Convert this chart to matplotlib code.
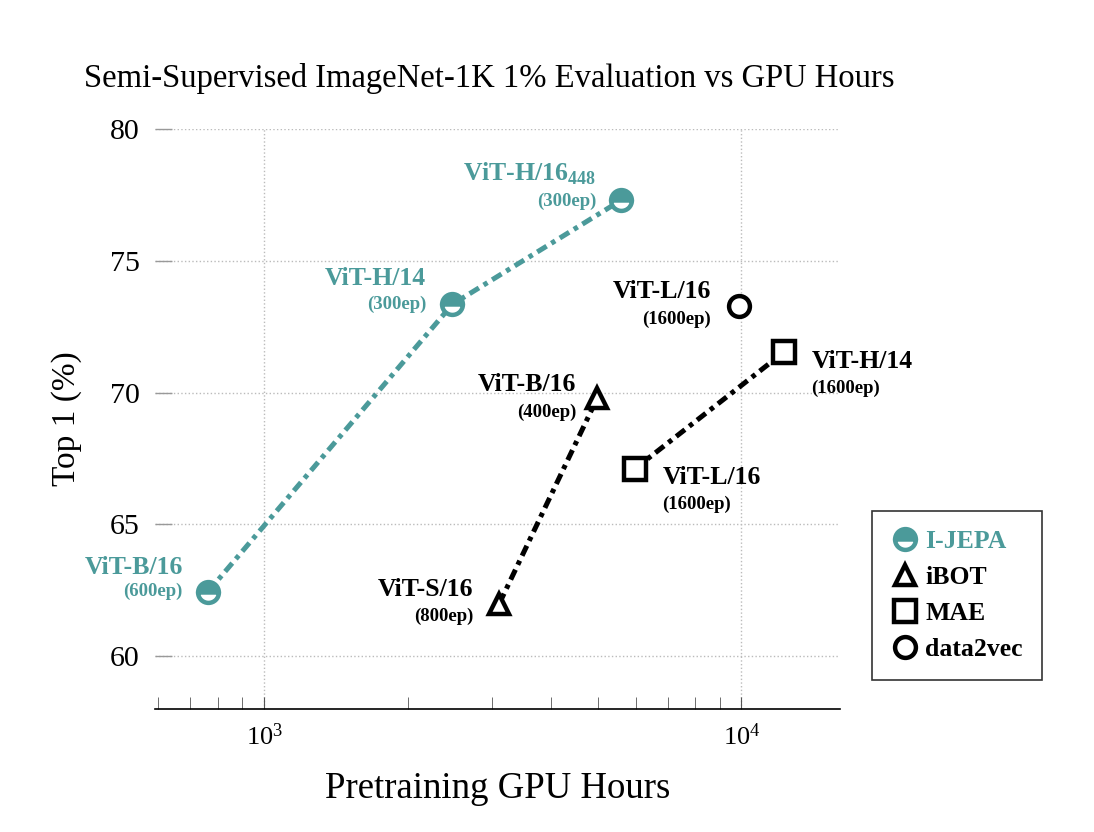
import matplotlib
matplotlib.use("Agg")
import matplotlib.pyplot as plt
from matplotlib.lines import Line2D

# values
ijepa_hours = [763, 2480, 5600]
ijepa_top1 = [62.45, 73.35, 77.3]
ijepa_names = ["ViT-B/16", "ViT-H/14", r"ViT-H/16$_{\mathregular{448}}$"]
ijepa_eps = ["(600ep)", "(300ep)", "(300ep)"]

ibot_hours = [3110, 4990]
ibot_top1 = [62.0, 69.8]
ibot_names = ["ViT-S/16", "ViT-B/16"]
ibot_eps = ["(800ep)", "(400ep)"]

mae_hours = [5970, 12300]
mae_top1 = [67.1, 71.55]
mae_names = ["ViT-L/16", "ViT-H/14"]
mae_eps = ["(1600ep)", "(1600ep)"]

d2v_hours = [9900]
d2v_top1 = [73.3]
d2v_names = ["ViT-L/16"]
d2v_eps = ["(1600ep)"]

legend_names = ["I-JEPA", "iBOT", "MAE", "data2vec"]

teal = "#4b9a9a"
plt.rcParams['font.family'] = ['Liberation Serif', 'DejaVu Serif']
plt.rcParams['mathtext.fontset'] = 'custom'
plt.rcParams['mathtext.rm'] = 'Liberation Serif'

fig = plt.figure(figsize=(10.94, 8.32), dpi=100)
ax = fig.add_axes([0.1417, 0.1478, 0.6263, 0.6972])

dash = (0, (2.2, 1.1, 0.9, 1.1))
ax.plot(ijepa_hours, ijepa_top1, color=teal, lw=3.6, ls=dash, marker='o', ms=15,
        fillstyle='top', mfc=teal, mfcalt='white', mec=teal, mew=3.2, zorder=3)
ax.plot(ibot_hours, ibot_top1, color='black', lw=3.6, ls=dash, marker='^', ms=15,
        mfc='white', mec='black', mew=3.2, zorder=3)
ax.plot(mae_hours, mae_top1, color='black', lw=3.6, ls=dash, marker='s', ms=16,
        mfc='white', mec='black', mew=3.2, zorder=3)
ax.plot(d2v_hours, d2v_top1, color='black', lw=0, marker='o', ms=15,
        mfc='white', mec='black', mew=3.2, zorder=3)


def label(x, y, name, ep, color, dx, dy1, dy2, ha):
    ax.annotate(name, (x, y), xytext=(dx, dy1), textcoords='offset pixels',
                ha=ha, va='center', fontsize=18.5, fontweight='bold', color=color)
    ax.annotate(ep, (x, y), xytext=(dx, dy2), textcoords='offset pixels',
                ha=ha, va='center', fontsize=13.5, fontweight='bold', color=color)


label(ijepa_hours[0], ijepa_top1[0], ijepa_names[0], ijepa_eps[0], teal, -25, 24, 0, 'right')
label(ijepa_hours[1], ijepa_top1[1], ijepa_names[1], ijepa_eps[1], teal, -26, 26, 0, 'right')
label(ijepa_hours[2], ijepa_top1[2], ijepa_names[2], ijepa_eps[2], teal, -25, 26, -1, 'right')
label(ibot_hours[0], ibot_top1[0], ibot_names[0], ibot_eps[0], 'black', -26, 14, -13, 'right')
label(ibot_hours[1], ibot_top1[1], ibot_names[1], ibot_eps[1], 'black', -21, 13, -14, 'right')
label(mae_hours[0], mae_top1[0], mae_names[0], mae_eps[0], 'black', 28, -8, -35, 'left')
label(mae_hours[1], mae_top1[1], mae_names[1], mae_eps[1], 'black', 27, -10, -37, 'left')
label(d2v_hours[0], d2v_top1[0], d2v_names[0], d2v_eps[0], 'black', -28, 14, -14, 'right')

ax.set_xscale('log')
ax.set_xlim(591, 16100)
ax.set_ylim(58, 80)
ax.set_yticks([60, 65, 70, 75, 80])
ax.grid(True, which='major', color='#bbbbbb', ls=':', lw=1)
ax.tick_params(axis='y', direction='in', length=12, color='#999999', width=1,
               labelsize=21.5, pad=11)
ax.tick_params(axis='x', which='both', direction='in', color='#555555', labelsize=19, pad=10)
ax.tick_params(axis='x', which='major', length=9)
ax.tick_params(axis='x', which='minor', length=9)
for s in ['top', 'right', 'left']:
    ax.spines[s].set_visible(False)
ax.spines['bottom'].set_linewidth(1.2)

ax.set_xlabel("Pretraining GPU Hours", fontsize=26.5, labelpad=16)
ax.set_ylabel("Top 1 (%)", fontsize=24, labelpad=20)
ax.set_title("Semi-Supervised ImageNet-1K 1% Evaluation vs GPU Hours", fontsize=23.5,
             loc='left', x=-0.104, pad=30)

handles = [
    Line2D([], [], ls='none', marker='o', ms=15, fillstyle='top', mfc=teal,
           mfcalt='white', mec=teal, mew=3.2),
    Line2D([], [], ls='none', marker='^', ms=15, mfc='white', mec='black', mew=3.2),
    Line2D([], [], ls='none', marker='s', ms=16, mfc='white', mec='black', mew=3.2),
    Line2D([], [], ls='none', marker='o', ms=15, mfc='white', mec='black', mew=3.2),
]
leg = ax.legend(handles, legend_names, loc='lower left', bbox_to_anchor=(1.047, 0.05),
                borderaxespad=0, frameon=True, fancybox=False, edgecolor='black',
                handlelength=1.0, handletextpad=0.3, labelspacing=0.5, borderpad=0.75,
                labelcolor=[teal, 'black', 'black', 'black'],
                prop={'weight': 'bold', 'size': 18.5})
leg.get_frame().set_linewidth(1.2)

fig.savefig("out.png", dpi=100)
